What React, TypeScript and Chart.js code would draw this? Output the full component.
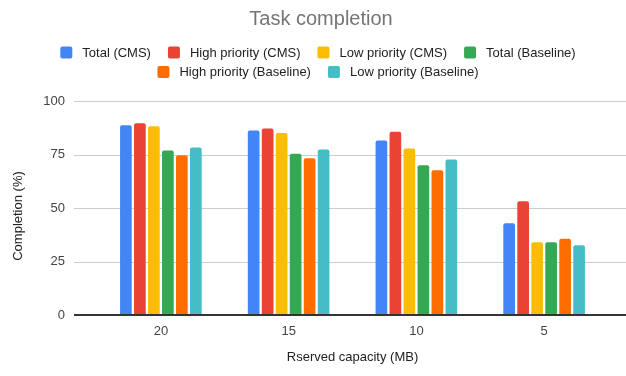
import React, { useEffect, useRef } from "react";
import { Chart, registerables } from "chart.js";

Chart.register(...registerables);

// Reserved capacity groups (MB) and completion rates (%) per series
const capacities = ["20", "15", "10", "5"];
const totalCMS = [88.7, 86.2, 81.5, 42.9];
const highCMS = [89.6, 87.1, 85.6, 53.1];
const lowCMS = [88.2, 85.0, 77.8, 34.0];
const totalBaseline = [76.9, 75.3, 70.0, 34.0];
const highBaseline = [74.7, 73.2, 67.6, 35.6];
const lowBaseline = [78.3, 77.3, 72.7, 32.6];

const seriesNames = [
  "Total (CMS)",
  "High priority (CMS)",
  "Low priority (CMS)",
  "Total (Baseline)",
  "High priority (Baseline)",
  "Low priority (Baseline)",
];
const seriesValues = [totalCMS, highCMS, lowCMS, totalBaseline, highBaseline, lowBaseline];
const seriesColors = ["#4285F4", "#EA4335", "#FBBC04", "#34A853", "#FF6D01", "#46BDC6"];

const yMin = 0;
const yMax = 100;
const yStep = 25;

const chartTitle = "Task completion";
const xTitle = "Rserved capacity (MB)";
const yTitle = "Completion (%)";

const FONT = '"Liberation Sans", Arial, Helvetica, sans-serif';
const W = 626;
const H = 376;

// Gridlines, baseline, title, legend and axis titles
const decorPlugin = {
  id: "decor",
  beforeDatasetsDraw(chart: any) {
    const { ctx } = chart;
    const y = chart.scales.y;
    ctx.save();
    ctx.strokeStyle = "#cccccc";
    ctx.lineWidth = 1;
    y.ticks.forEach((t: any) => {
      if (t.value === yMin) return;
      const py = Math.round(y.getPixelForValue(t.value)) + 0.5;
      ctx.beginPath();
      ctx.moveTo(74, py);
      ctx.lineTo(W, py);
      ctx.stroke();
    });
    ctx.restore();
  },
  afterDatasetsDraw(chart: any) {
    const { ctx } = chart;
    const y = chart.scales.y;
    const py = y.getPixelForValue(yMin);
    ctx.save();
    ctx.strokeStyle = "#333333";
    ctx.lineWidth = 2;
    ctx.beginPath();
    ctx.moveTo(74, py);
    ctx.lineTo(W, py);
    ctx.stroke();
    ctx.restore();
  },
  afterDraw(chart: any) {
    const { ctx, chartArea } = chart;
    ctx.save();

    // Title
    ctx.fillStyle = "#757575";
    ctx.font = `20px ${FONT}`;
    ctx.textAlign = "center";
    ctx.textBaseline = "alphabetic";
    ctx.fillText(chartTitle, 321, 25);

    // Legend, wrapped into centered rows
    ctx.font = `13px ${FONT}`;
    const box = 12;
    const textGap = 10;
    const itemGap = 17;
    const maxRow = 580;
    const items = seriesNames.map((name, i) => ({
      name,
      color: seriesColors[i],
      w: box + textGap + ctx.measureText(name).width,
    }));
    const rows: any[][] = [];
    let cur: any[] = [];
    let curW = 0;
    items.forEach((it) => {
      const add = cur.length ? itemGap + it.w : it.w;
      if (cur.length && curW + add > maxRow) {
        rows.push(cur);
        cur = [it];
        curW = it.w;
      } else {
        cur.push(it);
        curW += add;
      }
    });
    if (cur.length) rows.push(cur);
    const rowY = [52.5, 72];
    ctx.textAlign = "left";
    ctx.textBaseline = "middle";
    rows.forEach((row, r) => {
      const total = row.reduce((s, it) => s + it.w, 0) + itemGap * (row.length - 1);
      let x = 318 - total / 2;
      const cy = rowY[r] ?? rowY[0] + r * 19.5;
      row.forEach((it) => {
        ctx.fillStyle = it.color;
        ctx.beginPath();
        ctx.roundRect(x, cy - box / 2, box, box, 2);
        ctx.fill();
        ctx.fillStyle = "#222222";
        ctx.fillText(it.name, x + box + textGap, cy + 0.5);
        x += it.w + itemGap;
      });
    });

    // Axis titles
    ctx.fillStyle = "#222222";
    ctx.font = `13px ${FONT}`;
    ctx.textAlign = "center";
    ctx.textBaseline = "middle";
    ctx.fillText(xTitle, (chartArea.left + chartArea.right) / 2, 357);
    ctx.translate(18, 216);
    ctx.rotate(-Math.PI / 2);
    ctx.fillText(yTitle, 0, 0);

    ctx.restore();
  },
};

export default function App() {
  const canvasRef = useRef<HTMLCanvasElement | null>(null);

  useEffect(() => {
    const canvas = canvasRef.current;
    if (!canvas) return;
    const chart = new Chart(canvas, {
      type: "bar",
      data: {
        labels: capacities,
        datasets: seriesNames.map((name, i) => ({
          label: name,
          data: seriesValues[i],
          backgroundColor: seriesColors[i],
          borderWidth: 0,
          borderRadius: 2,
          borderSkipped: "start",
          categoryPercentage: 0.657,
          barPercentage: 0.835,
        })),
      },
      options: {
        responsive: false,
        animation: false,
        devicePixelRatio: 1,
        layout: { padding: { top: 101, right: 18, bottom: 0, left: 0 } },
        plugins: {
          legend: { display: false },
          title: { display: false },
          tooltip: { enabled: false },
        },
        scales: {
          x: {
            grid: { display: false, drawTicks: false },
            border: { display: false },
            ticks: { color: "#444444", font: { size: 13, family: FONT }, padding: 9 },
            afterFit(scale: any) {
              scale.height = 61;
            },
          },
          y: {
            min: yMin,
            max: yMax,
            ticks: {
              stepSize: yStep,
              color: "#444444",
              font: { size: 13, family: FONT },
              padding: 32,
            },
            grid: { display: false, drawTicks: false },
            border: { display: false },
            afterFit(scale: any) {
              scale.width = 97;
            },
          },
        },
      },
      plugins: [decorPlugin],
    });
    return () => chart.destroy();
  }, []);

  return (
    <div style={{ position: "absolute", left: 0, top: 0, width: W, height: H, background: "#ffffff" }}>
      <canvas ref={canvasRef} width={W} height={H} style={{ display: "block", width: W, height: H }} />
    </div>
  );
}
